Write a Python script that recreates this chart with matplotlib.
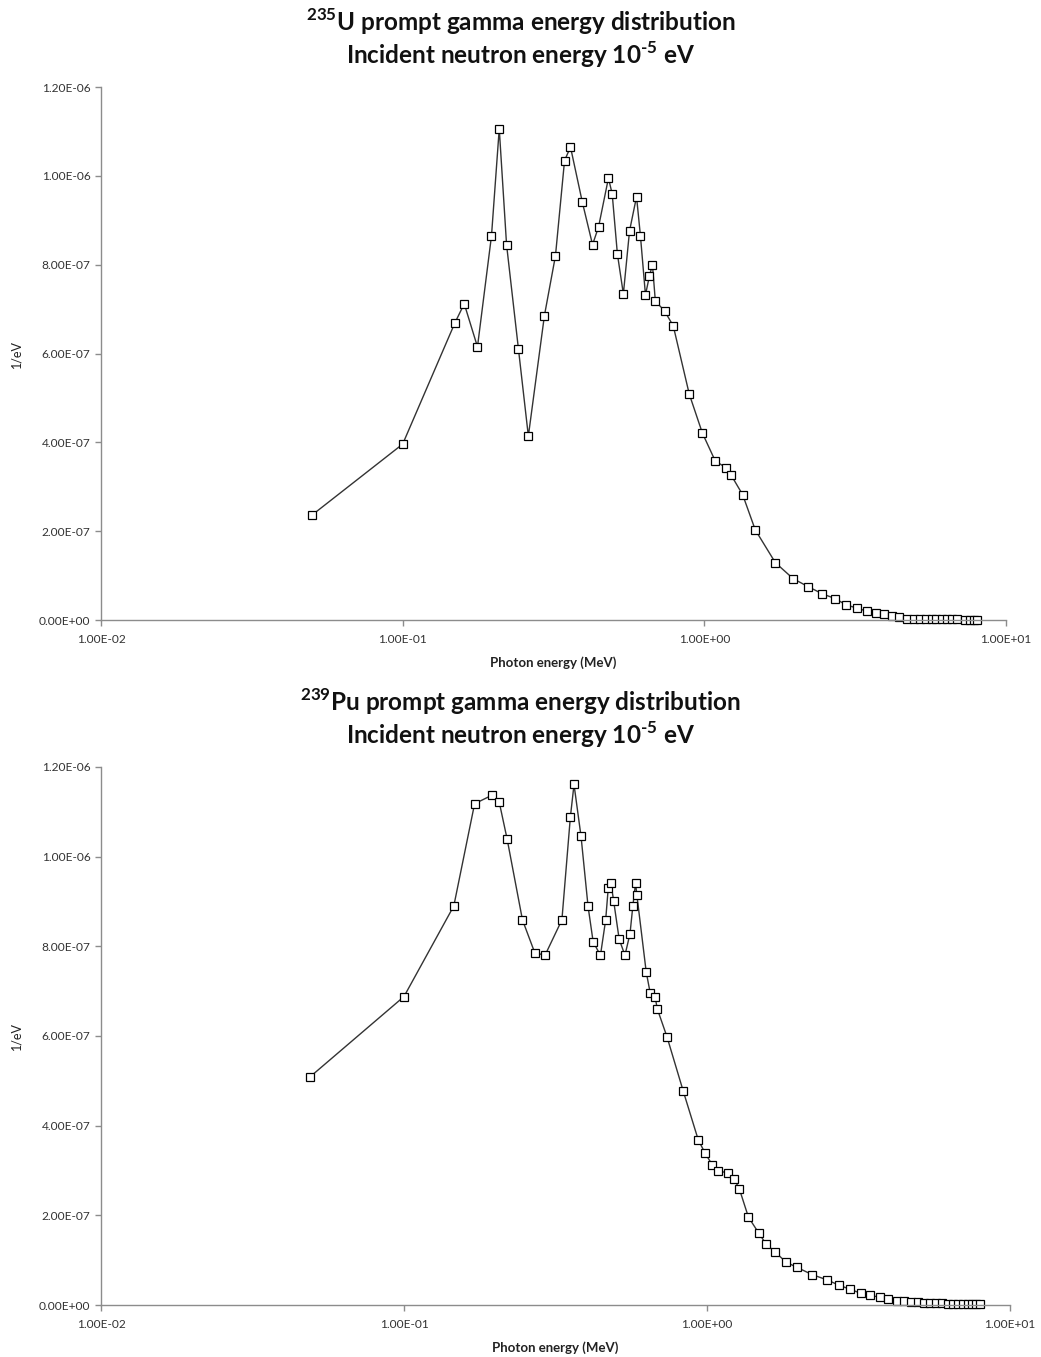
import numpy as np
import matplotlib
matplotlib.use("Agg")
import matplotlib.pyplot as plt
from matplotlib.ticker import FixedLocator, FuncFormatter, NullLocator

plt.rcParams['font.family'] = ['Lato', 'DejaVu Sans']
plt.rcParams['mathtext.fontset'] = 'custom'
plt.rcParams['mathtext.rm'] = 'Lato:bold'
plt.rcParams['mathtext.bf'] = 'Lato:bold'

# U-235 prompt gamma spectrum (photon energy in MeV, 1/eV)
u235_energy = [0.05, 0.1, 0.149, 0.160, 0.177, 0.197, 0.209, 0.221, 0.242, 0.261,
               0.295, 0.321, 0.344, 0.360, 0.394, 0.426, 0.446, 0.481, 0.495, 0.515,
               0.539, 0.565, 0.596, 0.614, 0.638, 0.658, 0.673, 0.688, 0.738, 0.789,
               0.891, 0.985, 1.087, 1.18, 1.225, 1.34, 1.475, 1.72, 1.97, 2.21,
               2.46, 2.72, 2.95, 3.20, 3.45, 3.70, 3.94, 4.18, 4.42, 4.71,
               4.95, 5.17, 5.42, 5.68, 5.88, 6.15, 6.39, 6.64, 6.90, 7.31,
               7.58, 7.84, 8.04]
u235_value = [2.36e-7, 3.96e-7, 6.69e-7, 7.12e-7, 6.15e-7, 8.65e-7, 1.106e-6, 8.45e-7, 6.10e-7, 4.14e-7,
              6.85e-7, 8.20e-7, 1.034e-6, 1.065e-6, 9.41e-7, 8.45e-7, 8.85e-7, 9.95e-7, 9.59e-7, 8.24e-7,
              7.34e-7, 8.76e-7, 9.53e-7, 8.65e-7, 7.32e-7, 7.75e-7, 8.00e-7, 7.18e-7, 6.96e-7, 6.62e-7,
              5.09e-7, 4.21e-7, 3.58e-7, 3.43e-7, 3.27e-7, 2.82e-7, 2.03e-7, 1.29e-7, 9.3e-8, 7.5e-8,
              5.9e-8, 4.8e-8, 3.4e-8, 2.7e-8, 2.0e-8, 1.6e-8, 1.3e-8, 9e-9, 6e-9, 3e-9,
              3e-9, 3e-9, 3e-9, 3e-9, 3e-9, 2e-9, 2e-9, 2e-9, 2e-9, 1e-9,
              1e-9, 1e-9, 1e-9]

# Pu-239 prompt gamma spectrum
pu239_energy = [0.049, 0.1, 0.146, 0.171, 0.195, 0.206, 0.219, 0.246, 0.270, 0.292,
                0.332, 0.354, 0.364, 0.384, 0.405, 0.421, 0.445, 0.463, 0.472, 0.482,
                0.492, 0.513, 0.536, 0.557, 0.569, 0.581, 0.587, 0.630, 0.649, 0.674,
                0.685, 0.738, 0.834, 0.936, 0.987, 1.04, 1.085, 1.175, 1.23, 1.28,
                1.37, 1.48, 1.57, 1.68, 1.82, 1.98, 2.22, 2.49, 2.73, 2.97,
                3.22, 3.45, 3.72, 3.96, 4.25, 4.47, 4.73, 4.98, 5.20, 5.45,
                5.70, 5.96, 6.23, 6.50, 6.75, 7.01, 7.25, 7.47, 7.72, 7.96]
pu239_value = [5.09e-7, 6.88e-7, 8.90e-7, 1.118e-6, 1.137e-6, 1.123e-6, 1.039e-6, 8.59e-7, 7.86e-7, 7.80e-7,
               8.59e-7, 1.088e-6, 1.161e-6, 1.045e-6, 8.89e-7, 8.10e-7, 7.80e-7, 8.59e-7, 9.29e-7, 9.41e-7,
               9.01e-7, 8.16e-7, 7.80e-7, 8.28e-7, 8.89e-7, 9.41e-7, 9.14e-7, 7.43e-7, 6.97e-7, 6.88e-7,
               6.61e-7, 5.98e-7, 4.78e-7, 3.68e-7, 3.38e-7, 3.13e-7, 3.00e-7, 2.94e-7, 2.81e-7, 2.58e-7,
               1.96e-7, 1.61e-7, 1.35e-7, 1.18e-7, 9.6e-8, 8.4e-8, 6.8e-8, 5.6e-8, 4.4e-8, 3.5e-8,
               2.6e-8, 2.2e-8, 1.7e-8, 1.3e-8, 9.6e-9, 9.6e-9, 6.7e-9, 6.7e-9, 3.8e-9, 3.8e-9,
               3.8e-9, 3.8e-9, 2e-9, 2e-9, 2e-9, 2e-9, 2e-9, 2e-9, 2e-9, 2e-9]

x_ticks = [1e-2, 1e-1, 1e0, 1e1]
y_ticks = [0, 2e-7, 4e-7, 6e-7, 8e-7, 1.0e-6, 1.2e-6]

W, H = 1041, 1357
fig = plt.figure(figsize=(W / 100, H / 100), dpi=100)

def px_axes(left, top, right, bottom):
    return fig.add_axes([left / W, 1 - bottom / H, (right - left) / W, (bottom - top) / H])

def style(ax):
    ax.set_xscale('log')
    ax.set_xlim(1e-2, 1e1)
    ax.set_ylim(0, 1.2e-6)
    ax.xaxis.set_major_locator(FixedLocator(x_ticks))
    ax.xaxis.set_minor_locator(NullLocator())
    ax.yaxis.set_major_locator(FixedLocator(y_ticks))
    fmt = FuncFormatter(lambda v, p: f"{v:.2E}")
    ax.xaxis.set_major_formatter(fmt)
    ax.yaxis.set_major_formatter(fmt)
    for s in ['top', 'right']:
        ax.spines[s].set_visible(False)
    for s in ['left', 'bottom']:
        ax.spines[s].set_color('#8c8c8c')
        ax.spines[s].set_linewidth(1.0)
    ax.tick_params(axis='both', direction='out', length=4, width=1.0,
                   color='#8c8c8c', labelsize=8.6, labelcolor='#333333')
    ax.tick_params(axis='x', pad=6)
    ax.set_xlabel('Photon energy (MeV)', fontsize=9.5, fontweight='bold',
                  labelpad=8, color='#222222')
    ax.set_ylabel('1/eV', fontsize=9, labelpad=12, color='#222222')

def draw(ax, x, y):
    ax.plot(x, y, color='#333333', lw=1.0, marker='s', markersize=5.2,
            markerfacecolor='white', markeredgecolor='black', markeredgewidth=0.9,
            clip_on=False)

ax1 = px_axes(101, 87, 1006, 620)
style(ax1)
draw(ax1, u235_energy, u235_value)

ax2 = px_axes(101, 767, 1010, 1305)
style(ax2)
draw(ax2, pu239_energy, pu239_value)

title_kw = dict(ha='center', va='center', fontsize=17.5, fontweight='bold', color='#111111')
fig.text(0.5, 1 - 22 / H, r'$^{235}$U prompt gamma energy distribution', **title_kw)
fig.text(0.5, 1 - 55 / H, r'Incident neutron energy 10$^{\text{-}5}$ eV', **title_kw)
fig.text(0.5, 1 - 702 / H, r'$^{239}$Pu prompt gamma energy distribution', **title_kw)
fig.text(0.5, 1 - 735 / H, r'Incident neutron energy 10$^{\text{-}5}$ eV', **title_kw)

fig.savefig('out.png', dpi=100)
